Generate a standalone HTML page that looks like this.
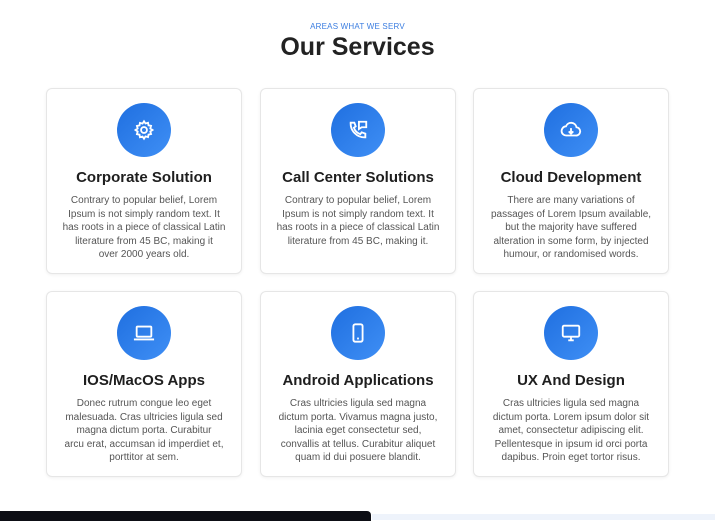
<!DOCTYPE html>
<html><head><meta charset="utf-8"><style>
*{margin:0;padding:0;box-sizing:border-box}
body{width:715px;height:518px;background:#fff;position:relative;overflow:hidden;font-family:"Liberation Sans",sans-serif}
.sub{position:absolute;top:22px;left:0;width:715px;text-align:center;font-size:8px;color:#3b7de0;letter-spacing:.2px}
.h{position:absolute;top:33px;left:0;width:715px;text-align:center;font-size:25px;font-weight:bold;color:#222}
.card{position:absolute;width:196px;height:186px;border:1px solid #e6e6e6;border-radius:6px;background:#fff;box-shadow:0 1px 3px rgba(0,0,0,.06)}
.ic{position:absolute;left:70px;top:14px;width:54px;height:54px;border-radius:50%;background:linear-gradient(135deg,#1f6fe0,#3f8ff5);display:flex;align-items:center;justify-content:center}
.t{position:absolute;top:80px;left:0;width:100%;text-align:center;font-size:15px;font-weight:bold;color:#1e1e1e}
.p{position:absolute;top:105px;left:0;width:100%;text-align:center;font-size:10px;line-height:13.6px;color:#555}
.dark{position:absolute;left:0;top:511px;width:371px;height:10px;background:#0d0e15;border-top-right-radius:4px}
.light{position:absolute;left:372px;top:514px;width:343px;height:6px;background:#eef3fb}
</style></head><body>
<div class="sub">AREAS WHAT WE SERV</div>
<div class="h">Our Services</div>

<div class="card" style="left:46px;top:88px">
<div class="ic"><svg width="22" height="22" viewBox="0 0 24 24" fill="none" stroke="#fff" stroke-width="2"><circle cx="12" cy="12" r="3.2"/><path d="M12 2.5l1.6 2.4 2.8-.8.5 2.8 2.8.6-.8 2.8 2.4 1.7-2.4 1.6.8 2.8-2.8.6-.5 2.8-2.8-.8L12 21.5l-1.6-2.4-2.8.8-.5-2.8-2.8-.6.8-2.8L2.7 12l2.4-1.6-.8-2.8 2.8-.6.5-2.8 2.8.8z"/></svg></div>
<div class="t">Corporate Solution</div>
<div class="p">Contrary to popular belief, Lorem<br>Ipsum is not simply random text. It<br>has roots in a piece of classical Latin<br>literature from 45 BC, making it<br>over 2000 years old.</div></div>

<div class="card" style="left:260px;top:88px">
<div class="ic"><svg width="22" height="22" viewBox="0 0 24 24" fill="none" stroke="#fff" stroke-width="2"><path d="M4 4h4l1.5 4-2 1.5a11 11 0 0 0 7 7l1.5-2 4 1.5v4c-9 .5-16.5-7-16-16z"/><path d="M13 3h8v6h-5l-3 2z"/></svg></div>
<div class="t">Call Center Solutions</div>
<div class="p">Contrary to popular belief, Lorem<br>Ipsum is not simply random text. It<br>has roots in a piece of classical Latin<br>literature from 45 BC, making it.</div></div>

<div class="card" style="left:473px;top:88px">
<div class="ic"><svg width="24" height="22" viewBox="0 0 24 24" fill="none" stroke="#fff" stroke-width="2"><path d="M7 18a5 5 0 0 1-.5-10A6 6 0 0 1 18 9a4.5 4.5 0 0 1-1 9z"/><path d="M12 10v6M9.5 13.5L12 16l2.5-2.5"/></svg></div>
<div class="t">Cloud Development</div>
<div class="p">There are many variations of<br>passages of Lorem Ipsum available,<br>but the majority have suffered<br>alteration in some form, by injected<br>humour, or randomised words.</div></div>

<div class="card" style="left:46px;top:291px">
<div class="ic"><svg width="26" height="22" viewBox="0 0 26 24" fill="none" stroke="#fff" stroke-width="2"><rect x="5" y="5" width="16" height="11" rx="1"/><path d="M2 19h22"/></svg></div>
<div class="t">IOS/MacOS Apps</div>
<div class="p">Donec rutrum congue leo eget<br>malesuada. Cras ultricies ligula sed<br>magna dictum porta. Curabitur<br>arcu erat, accumsan id imperdiet et,<br>porttitor at sem.</div></div>

<div class="card" style="left:260px;top:291px">
<div class="ic"><svg width="22" height="24" viewBox="0 0 24 24" fill="none" stroke="#fff" stroke-width="2"><rect x="7" y="2.5" width="10" height="19" rx="2"/><path d="M11 18h2"/></svg></div>
<div class="t">Android Applications</div>
<div class="p">Cras ultricies ligula sed magna<br>dictum porta. Vivamus magna justo,<br>lacinia eget consectetur sed,<br>convallis at tellus. Curabitur aliquet<br>quam id dui posuere blandit.</div></div>

<div class="card" style="left:473px;top:291px">
<div class="ic"><svg width="24" height="22" viewBox="0 0 24 24" fill="none" stroke="#fff" stroke-width="2"><rect x="3" y="4" width="18" height="12" rx="1.5"/><path d="M9 20h6M12 16v4"/></svg></div>
<div class="t">UX And Design</div>
<div class="p">Cras ultricies ligula sed magna<br>dictum porta. Lorem ipsum dolor sit<br>amet, consectetur adipiscing elit.<br>Pellentesque in ipsum id orci porta<br>dapibus. Proin eget tortor risus.</div></div>

<div class="dark"></div><div class="light"></div>
</body></html>
